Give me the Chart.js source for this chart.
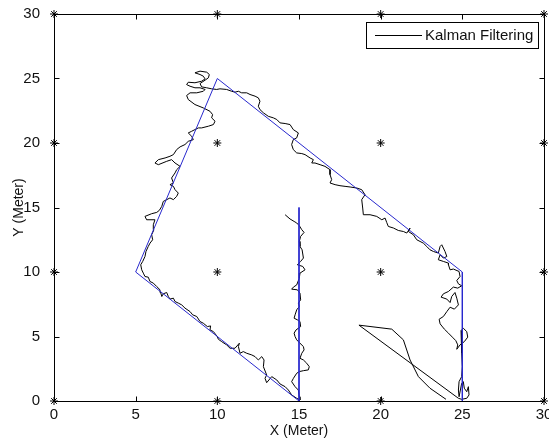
<!DOCTYPE html>
<html>
<head>
<meta charset="utf-8">
<script src="https://cdn.jsdelivr.net/npm/chart.js@4/dist/chart.umd.min.js"></script>
<style>
  html, body { margin: 0; padding: 0; background: #fff; }
</style>
</head>
<body>
<canvas id="chart" width="549" height="443"></canvas>
<script>
// tick values for both axes
const tickValues = [0, 5, 10, 15, 20, 25, 30];

// anchor nodes (the * markers)
const anchorX = [0, 10, 20, 30, 0, 10, 20, 30, 0, 10, 20, 30, 0, 10, 20, 30];
const anchorY = [0, 0, 0, 0, 10, 10, 10, 10, 20, 20, 20, 20, 30, 30, 30, 30];

// true path (blue)
const pathX = [15, 15, 5, 10, 25, 25];
const pathY = [15, 0, 10, 25, 10, 0];

// kalman filtered track (black)
const trackX = [
  14.15, 14.45, 14.7, 14.86, 15.02, 15.17, 15.31, 15.1, 15.02, 15.06, 15.19, 15.27, 15.1, 14.9, 15.23, 15.37,
  15.06, 15.02, 14.86, 14.66, 14.55, 14.9, 15.06, 15.1, 14.96, 15.02, 14.86, 14.76, 14.7, 14.9, 15.06, 15.1,
  14.82, 14.7, 14.76, 14.86, 15.06, 15.27, 15.31, 15.17, 15.06, 15.27, 15.47, 15.63, 15.57, 15.27, 15.02, 14.86,
  14.66, 14.55, 14.76, 14.96, 15.02, 15.06,
  14.86, 14.55, 14.35, 14.15, 13.84, 13.64, 13.33, 13.02, 12.92, 13.02, 12.82, 12.86, 12.72, 12.51, 12.31, 12.11,
  11.8, 11.59, 11.39, 11.29, 11.35, 11.08, 10.78, 10.57, 10.27, 10.06, 10.0, 9.76, 9.55, 9.59, 9.39, 9.14,
  8.94, 8.74, 8.49, 8.33, 8.02, 7.82, 7.61, 7.41, 7.31, 7.1, 7.0, 6.9, 6.69, 6.6, 6.53, 6.49,
  6.29, 6.08, 5.88, 5.77, 5.57, 5.47, 5.37, 5.31, 5.43, 5.57, 5.63, 5.77, 5.88, 6.04, 5.98, 6.12, 6.08, 6.18,
  5.67, 5.57, 5.98, 6.29, 6.45, 6.6, 6.69, 7.1, 7.31, 7.51, 7.61, 7.41, 7.31, 7.1, 7.31, 7.2,
  7.41, 7.51, 7.72, 7.41, 7.2, 6.9, 6.39, 6.18, 6.39, 6.8, 7.1, 7.31, 7.51, 7.72, 8.02, 8.22,
  8.53, 8.43, 8.22, 8.43, 8.63, 8.84, 9.04, 9.45, 9.76, 9.86, 9.65, 9.71, 9.55, 9.14, 8.63, 8.22,
  8.12, 8.33, 8.74, 9.14, 9.25, 8.94, 8.63, 8.33, 8.12, 8.22, 8.63, 9.04, 9.25, 9.14, 8.94, 8.63,
  8.94, 9.35, 9.51, 9.45, 9.25, 8.94, 9.04, 9.35, 9.65, 9.96,
  10.16, 10.57, 10.88, 11.08, 11.29, 11.49, 11.8, 12.0, 12.31, 12.51, 12.61, 12.51, 12.61, 12.82, 13.12, 13.43,
  13.64, 13.84, 14.15, 14.45, 14.65, 14.96, 14.86, 14.65, 14.55, 14.65, 14.86, 15.17, 15.37, 15.68, 15.88, 15.78,
  15.98, 16.29, 16.59, 16.9, 16.9, 17.0, 16.9, 17.21, 17.51, 17.82, 18.13, 18.54, 18.84, 19.04, 18.84, 18.9,
  18.94, 19.35, 19.76, 20.07, 20.27, 20.37, 20.47, 20.78, 21.08, 21.39, 21.6, 21.8, 21.7, 22.0, 22.21, 22.41,
  22.61, 22.82, 23.02, 23.23, 23.53, 23.64, 23.74, 23.94, 24.05, 23.84, 23.64, 23.53, 23.84, 24.15,
  24.15, 24.25, 24.45, 24.8, 24.86, 24.66, 24.76, 24.96, 24.72, 24.45, 24.15, 23.84, 23.7, 24.05, 24.25, 24.35,
  24.55, 24.66, 24.76, 24.51, 24.25, 24.05, 23.84, 23.58, 23.64, 23.9, 24.15, 24.39, 24.6, 24.72, 24.66, 24.86,
  25.12, 25.33, 25.27, 25.06, 24.92, 24.96, 24.96, 25.0, 24.96, 24.8, 24.76, 24.8, 24.96, 25.06, 25.12, 25.27,
  25.37, 25.41, 25.27, 24.96,
  24.76, 18.67, 20.68, 21.39, 21.8, 22.31, 23.02, 24.0
];
const trackY = [
  14.44, 14.11, 13.92, 13.8, 13.59, 13.28, 13.07, 12.76, 12.37, 11.98, 11.72, 11.08, 10.82, 10.56, 10.43, 10.17,
  9.91, 9.53, 9.0, 8.83, 8.67, 8.62, 8.36, 7.84, 7.59, 7.32, 7.07, 6.68, 6.42, 6.29, 6.16, 5.77,
  5.51, 5.26, 4.99, 4.74, 4.48, 4.22, 3.96, 3.7, 3.31, 3.18, 2.93, 2.66, 2.41, 2.35, 2.28, 2.15,
  1.76, 1.5, 1.11, 0.85, 0.33, 0.08,
  0.21, 0.47, 0.85, 1.11, 1.32, 1.63, 1.89, 1.42, 1.76, 2.02, 2.66, 3.18, 3.44, 3.18, 3.44, 3.57,
  3.7, 3.83, 3.7, 4.22, 4.48, 4.09, 4.09, 4.35, 4.6, 4.79, 4.99, 5.38, 5.51, 5.82, 5.77, 6.03,
  6.16, 6.55, 6.68, 6.93, 7.2, 7.45, 7.59, 7.71, 7.97, 7.9, 8.1, 8.41, 8.31, 8.1, 8.41, 8.62,
  8.87, 9.14, 9.26, 9.6, 9.65, 9.91, 10.17, 10.56, 10.82, 11.2, 11.59, 11.98, 12.24, 12.5, 12.89, 13.28, 13.66, 14.05,
  14.05, 14.31, 14.52, 14.62, 14.78, 15.09, 15.47, 15.74, 15.61, 15.86, 16.12, 16.38, 16.64, 16.77, 16.9, 17.29,
  17.68, 17.93, 18.19, 18.45, 18.71, 18.58, 18.32, 18.45, 18.71, 18.84, 18.97, 19.1, 19.49, 19.7, 19.88, 20.13,
  20.26, 20.52, 20.78, 20.91, 21.04, 21.17, 21.17, 21.3, 21.43, 21.69, 21.95, 22.2, 22.46, 22.72, 22.98, 23.37,
  23.68, 23.89, 23.89, 24.01, 24.15, 24.28, 24.28, 24.4, 24.53, 24.71, 24.67, 24.79, 24.97, 25.18, 25.31, 25.44,
  25.57, 25.49, 25.31, 25.05, 24.87, 24.61, 24.35, 24.28, 24.2, 24.15,
  24.2, 24.15, 24.01, 23.94, 24.01, 23.89, 23.89, 23.76, 23.63, 23.5, 23.24, 22.85, 22.59, 22.34, 22.07, 21.95,
  21.82, 21.56, 21.51, 21.43, 21.04, 20.78, 20.4, 20.26, 19.88, 19.49, 19.23, 19.18, 19.1, 18.84, 18.71, 18.45,
  18.45, 18.32, 18.19, 17.93, 17.55, 17.16, 16.9, 16.77, 16.69, 16.64, 16.59, 16.51, 16.38, 15.99, 15.61, 14.96,
  14.44, 14.44, 14.31, 14.05, 14.18, 13.84, 13.53, 13.41, 13.22, 13.14, 13.02, 13.41, 13.14, 12.89, 12.5, 12.37,
  12.24, 11.98, 11.72, 11.59, 11.47, 11.98, 12.11, 11.59, 11.2, 11.08, 11.34, 10.95, 10.82, 10.69,
  10.56, 10.17, 10.23, 10.04, 9.65, 9.34, 9.08, 8.93, 8.75, 8.83, 8.49, 8.31, 8.05, 7.9, 7.63, 8.1,
  8.41, 7.97, 7.45, 7.12, 7.27, 6.93, 6.55, 6.34, 5.98, 5.57, 5.26, 4.95, 4.68, 4.35, 4.01, 4.35,
  4.6, 4.95, 5.38, 5.64, 5.46, 4.74, 3.7, 2.66, 1.89, 1.5, 0.85, 0.33, 1.37, 1.5, 0.99, 0.72,
  1.11, 0.47, 0.21, 0.13,
  0.21, 5.88, 5.57, 4.74, 3.18, 1.89, 0.99, 0.13
];

const toPoints = (xs, ys) => xs.map((v, i) => ({ x: v, y: ys[i] }));

const fontFamily = "'Liberation Sans', Arial, sans-serif";

// box with inward ticks + legend inside plot, matlab style
const matlabAxes = {
  id: 'matlabAxes',
  beforeDatasetsDraw(chart) {
    const { ctx, chartArea: a, scales: { x, y } } = chart;
    ctx.save();
    ctx.strokeStyle = '#000';
    ctx.lineWidth = 1;
    const l = Math.round(a.left) + 0.5, r = Math.round(a.right) + 0.5;
    const t = Math.round(a.top) + 0.5, b = Math.round(a.bottom) + 0.5;
    ctx.strokeRect(l, t, r - l, b - t);
    ctx.beginPath();
    tickValues.forEach(v => {
      const px = Math.round(x.getPixelForValue(v)) + 0.5;
      ctx.moveTo(px, b); ctx.lineTo(px, b - 5);
      ctx.moveTo(px, t); ctx.lineTo(px, t + 5);
      const py = Math.round(y.getPixelForValue(v)) + 0.5;
      ctx.moveTo(l, py); ctx.lineTo(l + 5, py);
      ctx.moveTo(r, py); ctx.lineTo(r - 5, py);
    });
    ctx.stroke();
    ctx.restore();
  },
  afterDraw(chart) {
    const { ctx } = chart;
    const ds = chart.data.datasets.find(d => d.label === 'Kalman Filtering');
    ctx.save();
    ctx.fillStyle = '#fff';
    ctx.fillRect(366.5, 22.5, 172, 26);
    ctx.strokeStyle = '#000';
    ctx.lineWidth = 1;
    ctx.strokeRect(366.5, 22.5, 172, 26);
    ctx.beginPath();
    ctx.moveTo(375, 35.5);
    ctx.lineTo(422, 35.5);
    ctx.strokeStyle = ds.borderColor;
    ctx.stroke();
    ctx.fillStyle = '#111';
    ctx.font = '15px ' + fontFamily;
    ctx.textBaseline = 'middle';
    ctx.textAlign = 'left';
    ctx.fillText(ds.label, 425, 36);
    ctx.restore();
  }
};

new Chart(document.getElementById('chart'), {
  type: 'scatter',
  data: {
    datasets: [
      {
        label: 'anchors',
        data: toPoints(anchorX, anchorY),
        pointStyle: 'star',
        pointRadius: 4,
        borderColor: '#000',
        backgroundColor: '#000',
        borderWidth: 1,
        clip: false,
        order: 0
      },
      {
        label: 'true path',
        data: toPoints(pathX, pathY),
        showLine: true,
        borderColor: 'rgb(40, 40, 205)',
        borderWidth: 1,
        pointRadius: 0,
        tension: 0,
        order: 1
      },
      {
        label: 'Kalman Filtering',
        data: toPoints(trackX, trackY),
        showLine: true,
        borderColor: '#000',
        borderWidth: 1,
        pointRadius: 0,
        tension: 0,
        order: 2
      }
    ]
  },
  plugins: [matlabAxes],
  options: {
    responsive: false,
    animation: false,
    layout: { padding: { top: 14, right: 5, left: 0, bottom: 0 } },
    plugins: {
      legend: { display: false },
      tooltip: { enabled: false }
    },
    scales: {
      x: {
        type: 'linear',
        min: 0,
        max: 30,
        grid: { display: false },
        border: { display: false },
        ticks: {
          stepSize: 5,
          padding: -3,
          color: '#111',
          font: { family: fontFamily, size: 15 }
        },
        title: {
          display: true,
          text: 'X (Meter)',
          color: '#111',
          padding: { top: 0, bottom: 3 },
          font: { family: fontFamily, size: 14 }
        },
        afterFit(scale) {
          scale.height = 42;
          scale.paddingLeft = 0;
          scale.paddingRight = 0;
        }
      },
      y: {
        type: 'linear',
        min: 0,
        max: 30,
        grid: { display: false },
        border: { display: false },
        ticks: {
          stepSize: 5,
          padding: 6,
          color: '#111',
          font: { family: fontFamily, size: 15 }
        },
        title: {
          display: true,
          text: 'Y (Meter)',
          color: '#111',
          padding: { top: 11, bottom: 0 },
          font: { family: fontFamily, size: 14 }
        },
        afterFit(scale) {
          scale.width = 54;
          scale.paddingTop = 0;
          scale.paddingBottom = 0;
        }
      }
    }
  }
});
</script>
</body>
</html>
